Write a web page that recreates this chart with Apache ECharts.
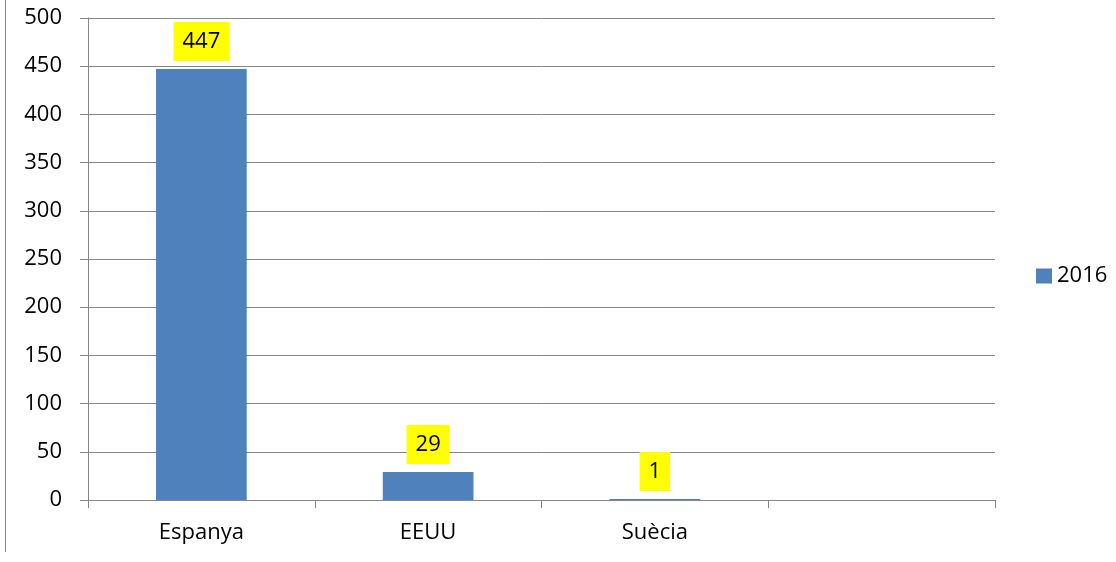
<!DOCTYPE html>
<html>
<head>
<meta charset="utf-8">
<script src="https://cdn.jsdelivr.net/npm/echarts@6/dist/echarts.min.js"></script>
<style>
  html, body { margin: 0; padding: 0; background: #fff; }
  #chart { width: 1116px; height: 562px; }
</style>
</head>
<body>
<div id="chart"></div>
<script>
// dades
const paisos = ["Espanya", "EEUU", "Suècia", ""];
const valors2016 = [447, 29, 1, null];
const nomSerie = "2016";

const gris = "#868686";
const font = "Open Sans, Liberation Sans, sans-serif";
const mida = 22;

var myChart = echarts.init(document.getElementById("chart"));
var option = {
  animation: false,
  textStyle: { fontFamily: font },
  grid: { left: 88, right: 121, top: 18, bottom: 62 },
  legend: {
    data: [nomSerie],
    orient: "vertical",
    left: 1036,
    top: 265,
    padding: 0,
    itemWidth: 16,
    itemHeight: 15,
    itemGap: 7,
    icon: "rect",
    textStyle: { fontSize: mida, color: "#000", fontFamily: font },
  },
  xAxis: {
    type: "category",
    data: paisos,
    axisLine: { lineStyle: { color: gris } },
    axisTick: { show: true, length: 8, lineStyle: { color: gris } },
    axisLabel: { fontSize: mida, color: "#000", margin: 22 },
  },
  yAxis: {
    type: "value",
    min: 0,
    max: 500,
    interval: 50,
    axisLine: { show: true, lineStyle: { color: gris } },
    axisTick: { show: true, length: 8, lineStyle: { color: gris } },
    axisLabel: { fontSize: mida, color: "#000", margin: 26 },
    splitLine: { lineStyle: { color: gris } },
  },
  series: [
    {
      name: nomSerie,
      type: "bar",
      data: valors2016,
      barWidth: "40%",
      itemStyle: { color: "#4f81bd" },
      label: {
        show: true,
        position: "top",
        distance: 8,
        fontSize: mida,
        color: "#000",
        backgroundColor: "#ffff00",
        padding: [9, 9, 8, 9],
        formatter: function (p) {
          return p.value == null ? "" : String(p.value);
        },
      },
    },
  ],
  graphic: [
    {
      type: "line",
      shape: { x1: 5.5, y1: 0, x2: 5.5, y2: 552 },
      style: { stroke: gris, lineWidth: 1 },
    },
  ],
};
myChart.setOption(option);
</script>
</body>
</html>
